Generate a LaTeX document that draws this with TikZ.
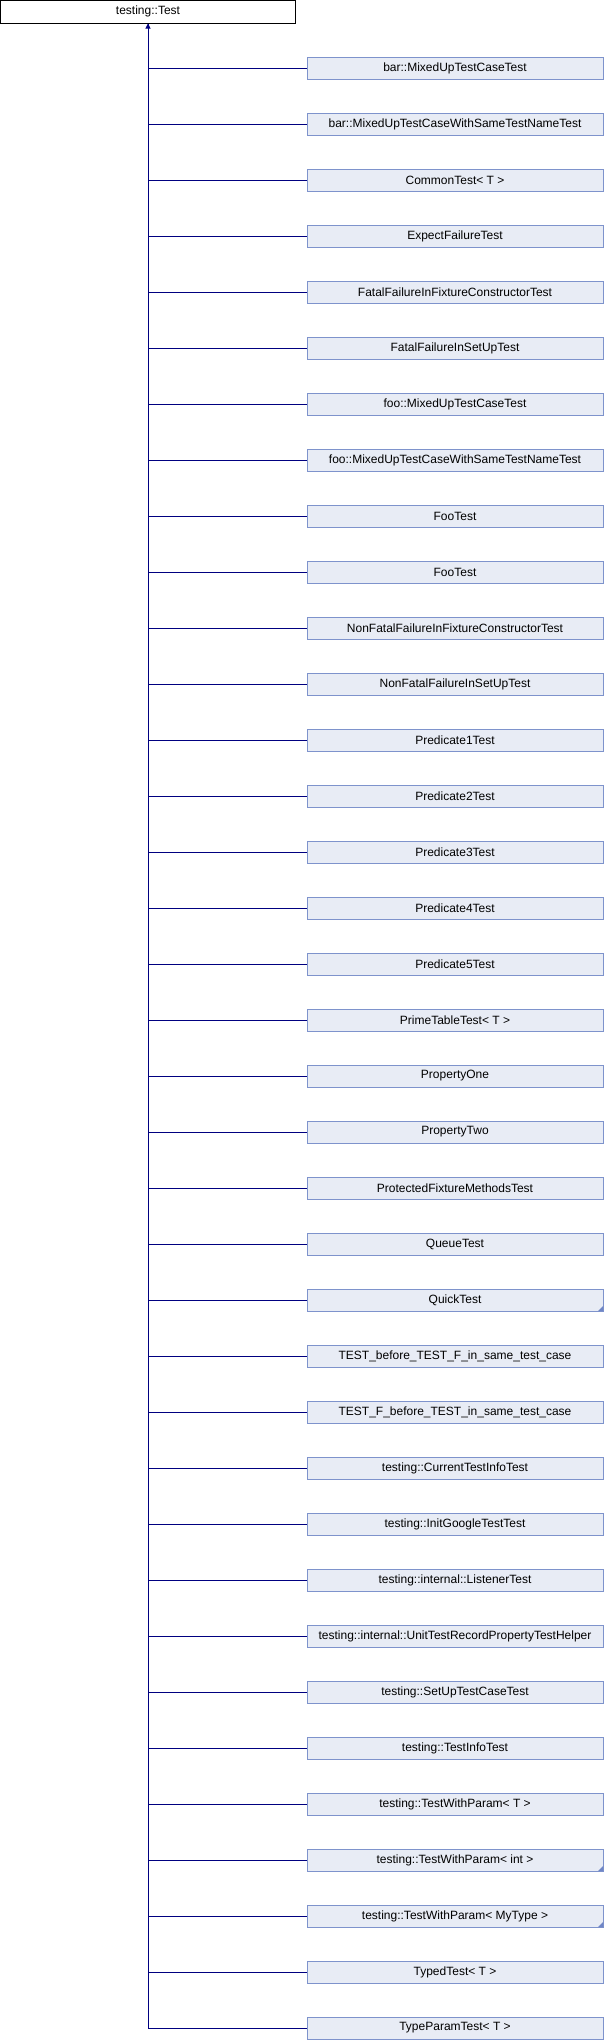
\documentclass[tikz,border=0pt]{standalone}
\usepackage{fontspec}
\setmainfont{Liberation Sans}
\usetikzlibrary{arrows.meta}
\definecolor{boxfill}{HTML}{E8ECF5}
\definecolor{boxline}{HTML}{7E93CC}
\definecolor{edgecol}{HTML}{000080}
\definecolor{markcol}{HTML}{6F86C6}
\tikzset{
  x=1pt, y=-1pt,
  basebox/.style={draw=black, fill=white, line width=1pt, minimum width=295pt, minimum height=22.5pt, inner sep=0pt, font=\fontsize{12}{14}\selectfont},
  childbox/.style={draw=boxline, fill=boxfill, line width=1pt, minimum width=296pt, minimum height=22pt, inner sep=0pt, font=\fontsize{12}{14}\selectfont},
  edge/.style={draw=edgecol, line width=1pt},
  tipedge/.style={edge, -{Triangle[length=5pt,width=5pt]}},
  cornermark/.style={fill=markcol}
}
\begin{document}
\begin{tikzpicture}
\useasboundingbox (0,0) rectangle (604,2040);
\node[basebox] (top) at (148,11.75) {testing::Test};
\foreach \txt [count=\i] in {
 bar::MixedUpTestCaseTest,
 bar::MixedUpTestCaseWithSameTestNameTest,
 CommonTest< T >,
 ExpectFailureTest,
 FatalFailureInFixtureConstructorTest,
 FatalFailureInSetUpTest,
 foo::MixedUpTestCaseTest,
 foo::MixedUpTestCaseWithSameTestNameTest,
 FooTest,
 FooTest,
 NonFatalFailureInFixtureConstructorTest,
 NonFatalFailureInSetUpTest,
 Predicate1Test,
 Predicate2Test,
 Predicate3Test,
 Predicate4Test,
 Predicate5Test,
 PrimeTableTest< T >,
 PropertyOne,
 PropertyTwo,
 ProtectedFixtureMethodsTest,
 QueueTest,
 QuickTest,
 TEST\_before\_TEST\_F\_in\_same\_test\_case,
 TEST\_F\_before\_TEST\_in\_same\_test\_case,
 testing::CurrentTestInfoTest,
 testing::InitGoogleTestTest,
 testing::internal::ListenerTest,
 testing::internal::UnitTestRecordPropertyTestHelper,
 testing::SetUpTestCaseTest,
 testing::TestInfoTest,
 testing::TestWithParam< T >,
 testing::TestWithParam< int >,
 testing::TestWithParam< MyType >,
 TypedTest< T >,
 TypeParamTest< T >}
{
  \pgfmathsetmacro{\yy}{68+56*(\i-1)}
  \node[childbox] (n\i) at (455,\yy) {\txt};
  \draw[edge] (n\i.west) -| (top.south);
}
\draw[tipedge] (n36.west) -| (top.south);
\foreach \k in {23,33,34}{
  \fill[cornermark] ([xshift=-0.5pt,yshift=0.5pt]n\k.south east) -- ++(-5,0) -- ++(5,-5) -- cycle;
}
\end{tikzpicture}
\end{document}
